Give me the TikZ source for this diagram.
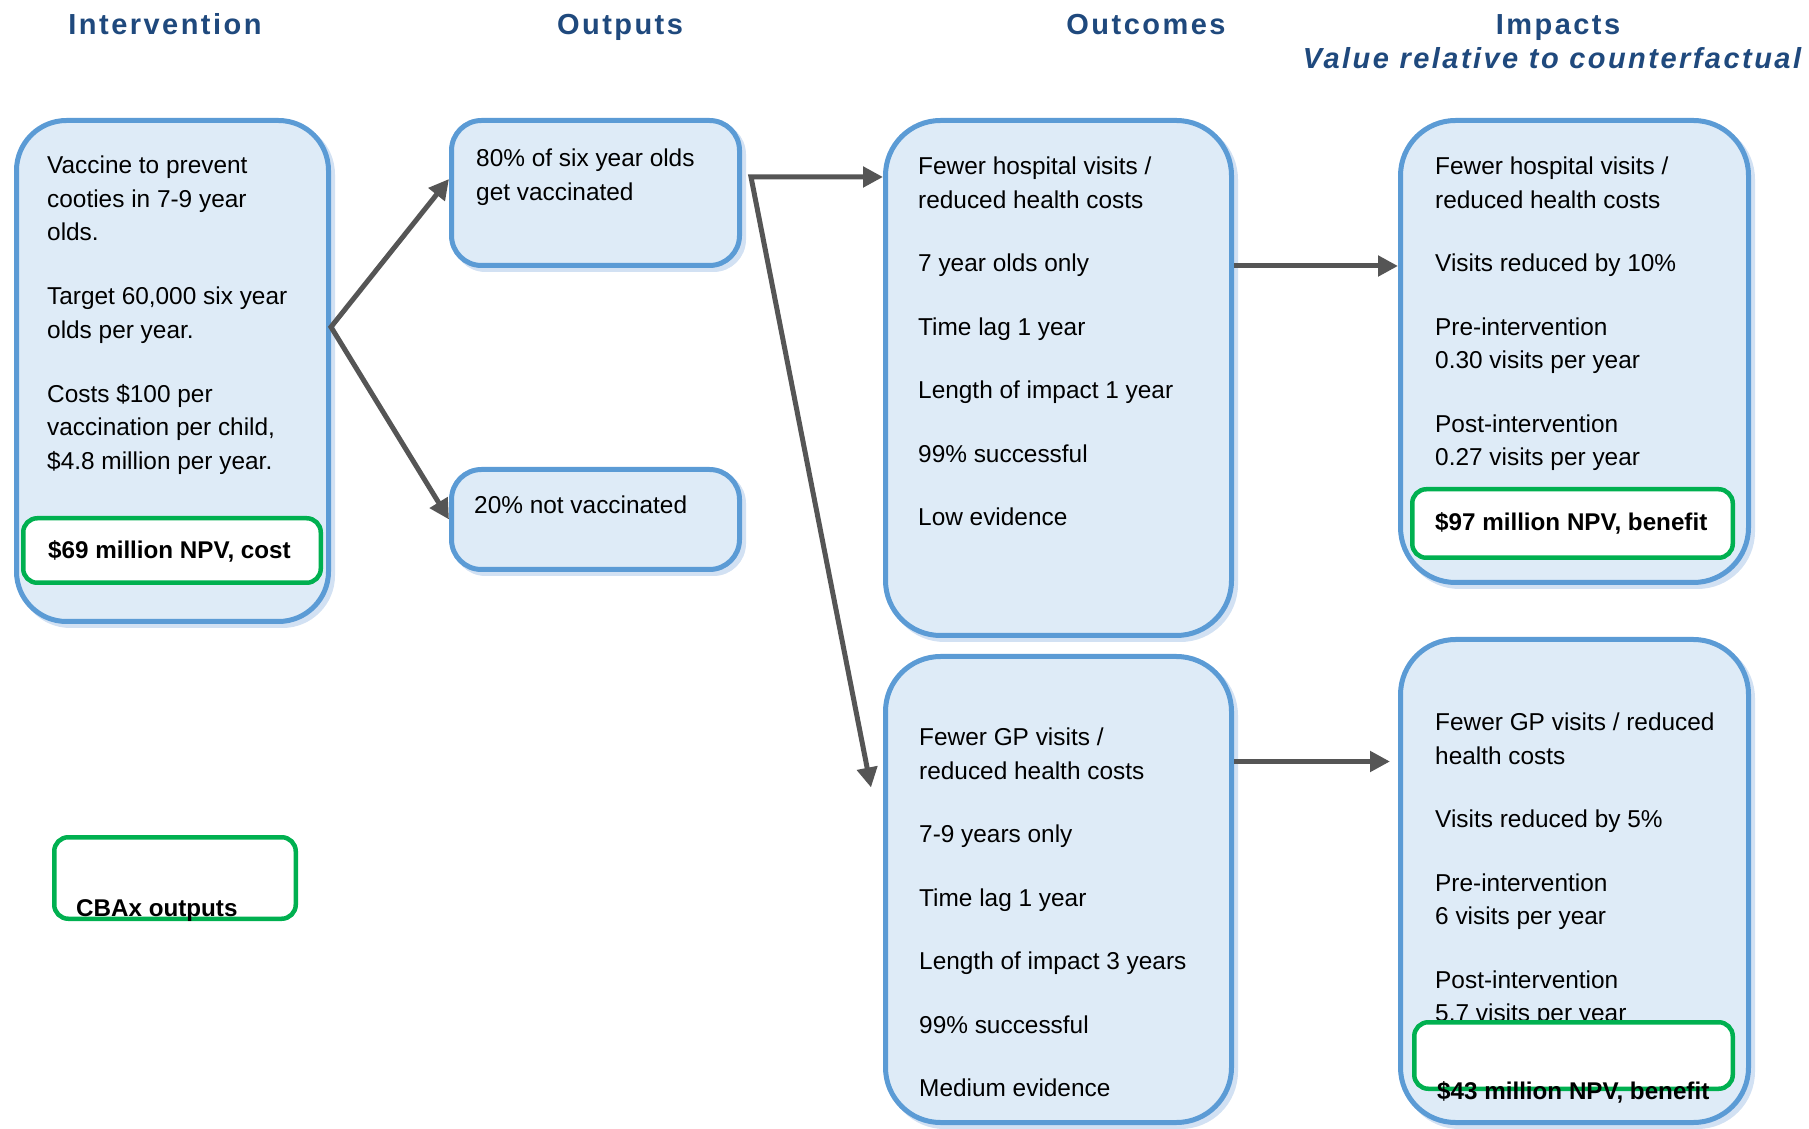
\documentclass[tikz,border=0pt]{standalone}
\usepackage{fontspec}
\setmainfont{Liberation Sans}
\usetikzlibrary{positioning,arrows.meta,shadows}

\definecolor{cardline}{RGB}{91,155,213}
\definecolor{cardfill}{RGB}{222,235,247}
\definecolor{cardshade}{RGB}{210,225,243}
\definecolor{npvgreen}{RGB}{0,176,80}
\definecolor{flowgray}{RGB}{85,85,85}
\definecolor{headblue}{RGB}{31,73,125}

\begin{document}
\begin{tikzpicture}[x=1pt,y=1pt,
    card/.style={draw=cardline, fill=cardfill, line width=5pt, anchor=north west,
      general shadow={draw=cardshade, fill=cardshade, line width=5pt, shadow xshift=4pt, shadow yshift=-4pt}},
    npvbox/.style={draw=npvgreen, fill=white, line width=4.5pt, rounded corners=14pt, anchor=north west},
    body/.style={anchor=north west, align=left, inner sep=0pt, font=\fontsize{24.4}{33.5}\selectfont},
    npv/.style={anchor=base west, inner sep=0pt, font=\fontsize{24.2}{29}\selectfont\bfseries},
    head/.style={anchor=base, inner sep=0pt, text=headblue, font=\fontsize{29}{35}\selectfont\bfseries\addfontfeature{LetterSpace=8.5}},
    headit/.style={head, font=\fontsize{29}{35}\selectfont\bfseries\itshape\addfontfeature{LetterSpace=8.5}},
    flow/.style={draw=flowgray, line width=5pt, -{Triangle[length=20pt,width=20pt]}},
    fork/.style={flow, {Triangle[length=20pt,width=20pt]}-{Triangle[length=20pt,width=20pt]}}]
  \useasboundingbox (0,0) rectangle (1809,1128);

  % column heads
  \node[head] (hintv) at (165,1093) {Intervention};
  \node[head] (hout) at (620,1093) {Outputs};
  \node[head] (hres) at (1146,1093) {Outcomes};
  \node[head] (himp) at (1558,1093) {Impacts};
  \node[headit] (hval) at (1552,1059) {Value relative to counterfactual};

  % cards
  \node[card, rounded corners=50pt, minimum width=312pt, minimum height=501pt] (intv) at (14,1010) {};
  \node[card, rounded corners=30pt, minimum width=288pt, minimum height=145pt] (out1) at (449,1010) {};
  \node[card, rounded corners=30pt, minimum width=288pt, minimum height=100pt] (out2) at (449,661) {};
  \node[card, rounded corners=55pt, minimum width=346pt, minimum height=515pt] (res1) at (883,1010) {};
  \node[card, rounded corners=55pt, minimum width=346pt, minimum height=466pt] (res2) at (883,474) {};
  \node[card, rounded corners=55pt, minimum width=348pt, minimum height=462pt] (imp1) at (1398,1010) {};
  \node[card, rounded corners=55pt, minimum width=348pt, minimum height=483pt] (imp2) at (1398,491) {};

  % card texts
  \node[body, below right=37.7pt and 33pt of intv.north west] (intvtxt)
    {Vaccine to prevent\\cooties in 7-9 year\\olds.\\[30.5pt]Target 60,000 six year\\olds per year.\\[30.5pt]Costs \$100 per\\vaccination per child,\\\$4.8 million per year.};
  \node[body, below right=30.7pt and 27pt of out1.north west] (out1txt)
    {80\% of six year olds\\get vaccinated};
  \node[body, below right=28.7pt and 25pt of out2.north west] (out2txt)
    {20\% not vaccinated};
  \node[body, below right=38.7pt and 35pt of res1.north west] (res1txt)
    {Fewer hospital visits /\\reduced health costs\\[30pt]7 year olds only\\[30pt]Time lag 1 year\\[30pt]Length of impact 1 year\\[30pt]99\% successful\\[30pt]Low evidence};
  \node[body, below right=73.7pt and 36pt of res2.north west] (res2txt)
    {Fewer GP visits /\\reduced health costs\\[30pt]7-9 years only\\[30pt]Time lag 1 year\\[30pt]Length of impact 3 years\\[30pt]99\% successful\\[30pt]Medium evidence};
  \node[body, below right=38.7pt and 37pt of imp1.north west] (imp1txt)
    {Fewer hospital visits /\\reduced health costs\\[30pt]Visits reduced by 10\%\\[30pt]Pre-intervention\\0.30 visits per year\\[30pt]Post-intervention\\0.27 visits per year};
  \node[body, below right=75.7pt and 37pt of imp2.north west] (imp2txt)
    {Fewer GP visits / reduced\\health costs\\[30pt]Visits reduced by 5\%\\[30pt]Pre-intervention\\6 visits per year\\[30pt]Post-intervention\\5.7 visits per year};

  % npv boxes
  \node[npvbox, minimum width=297.5pt, minimum height=64.5pt] (cost) at (21,612) {};
  \node[npvbox, minimum width=320.5pt, minimum height=68.5pt] (ben1) at (1410,641) {};
  \node[npvbox, minimum width=318.5pt, minimum height=66.5pt] (ben2) at (1412,108) {};
  \node[npvbox, minimum width=241.5pt, minimum height=81.5pt] (legend) at (52,293) {};
  \node[npv] (costtxt) at (48,569) {\$69 million NPV, cost};
  \node[npv] (ben1txt) at (1435,597) {\$97 million NPV, benefit};
  \node[npv] (ben2txt) at (1437,29) {\$43 million NPV, benefit};
  \node[npv] (legtxt) at (76,212) {CBAx outputs};

  % connectors
  \coordinate (split1) at (331,801);
  \coordinate (split2) at (751,951);
  \draw[fork] ([yshift=14pt]out1.west) -- (split1) -- (out2.west);
  \draw[fork] ([xshift=-12pt,yshift=102pt]res2.west) -- (split2) -- (split2 -| res1.west);
  \draw[flow] ([yshift=112pt]res1.east) -- ([yshift=112pt]res1.east -| imp1.west);
  \draw[flow, shorten >=8pt] ([yshift=128pt]res2.east) -- ([yshift=128pt]res2.east -| imp2.west);
\end{tikzpicture}
\end{document}
